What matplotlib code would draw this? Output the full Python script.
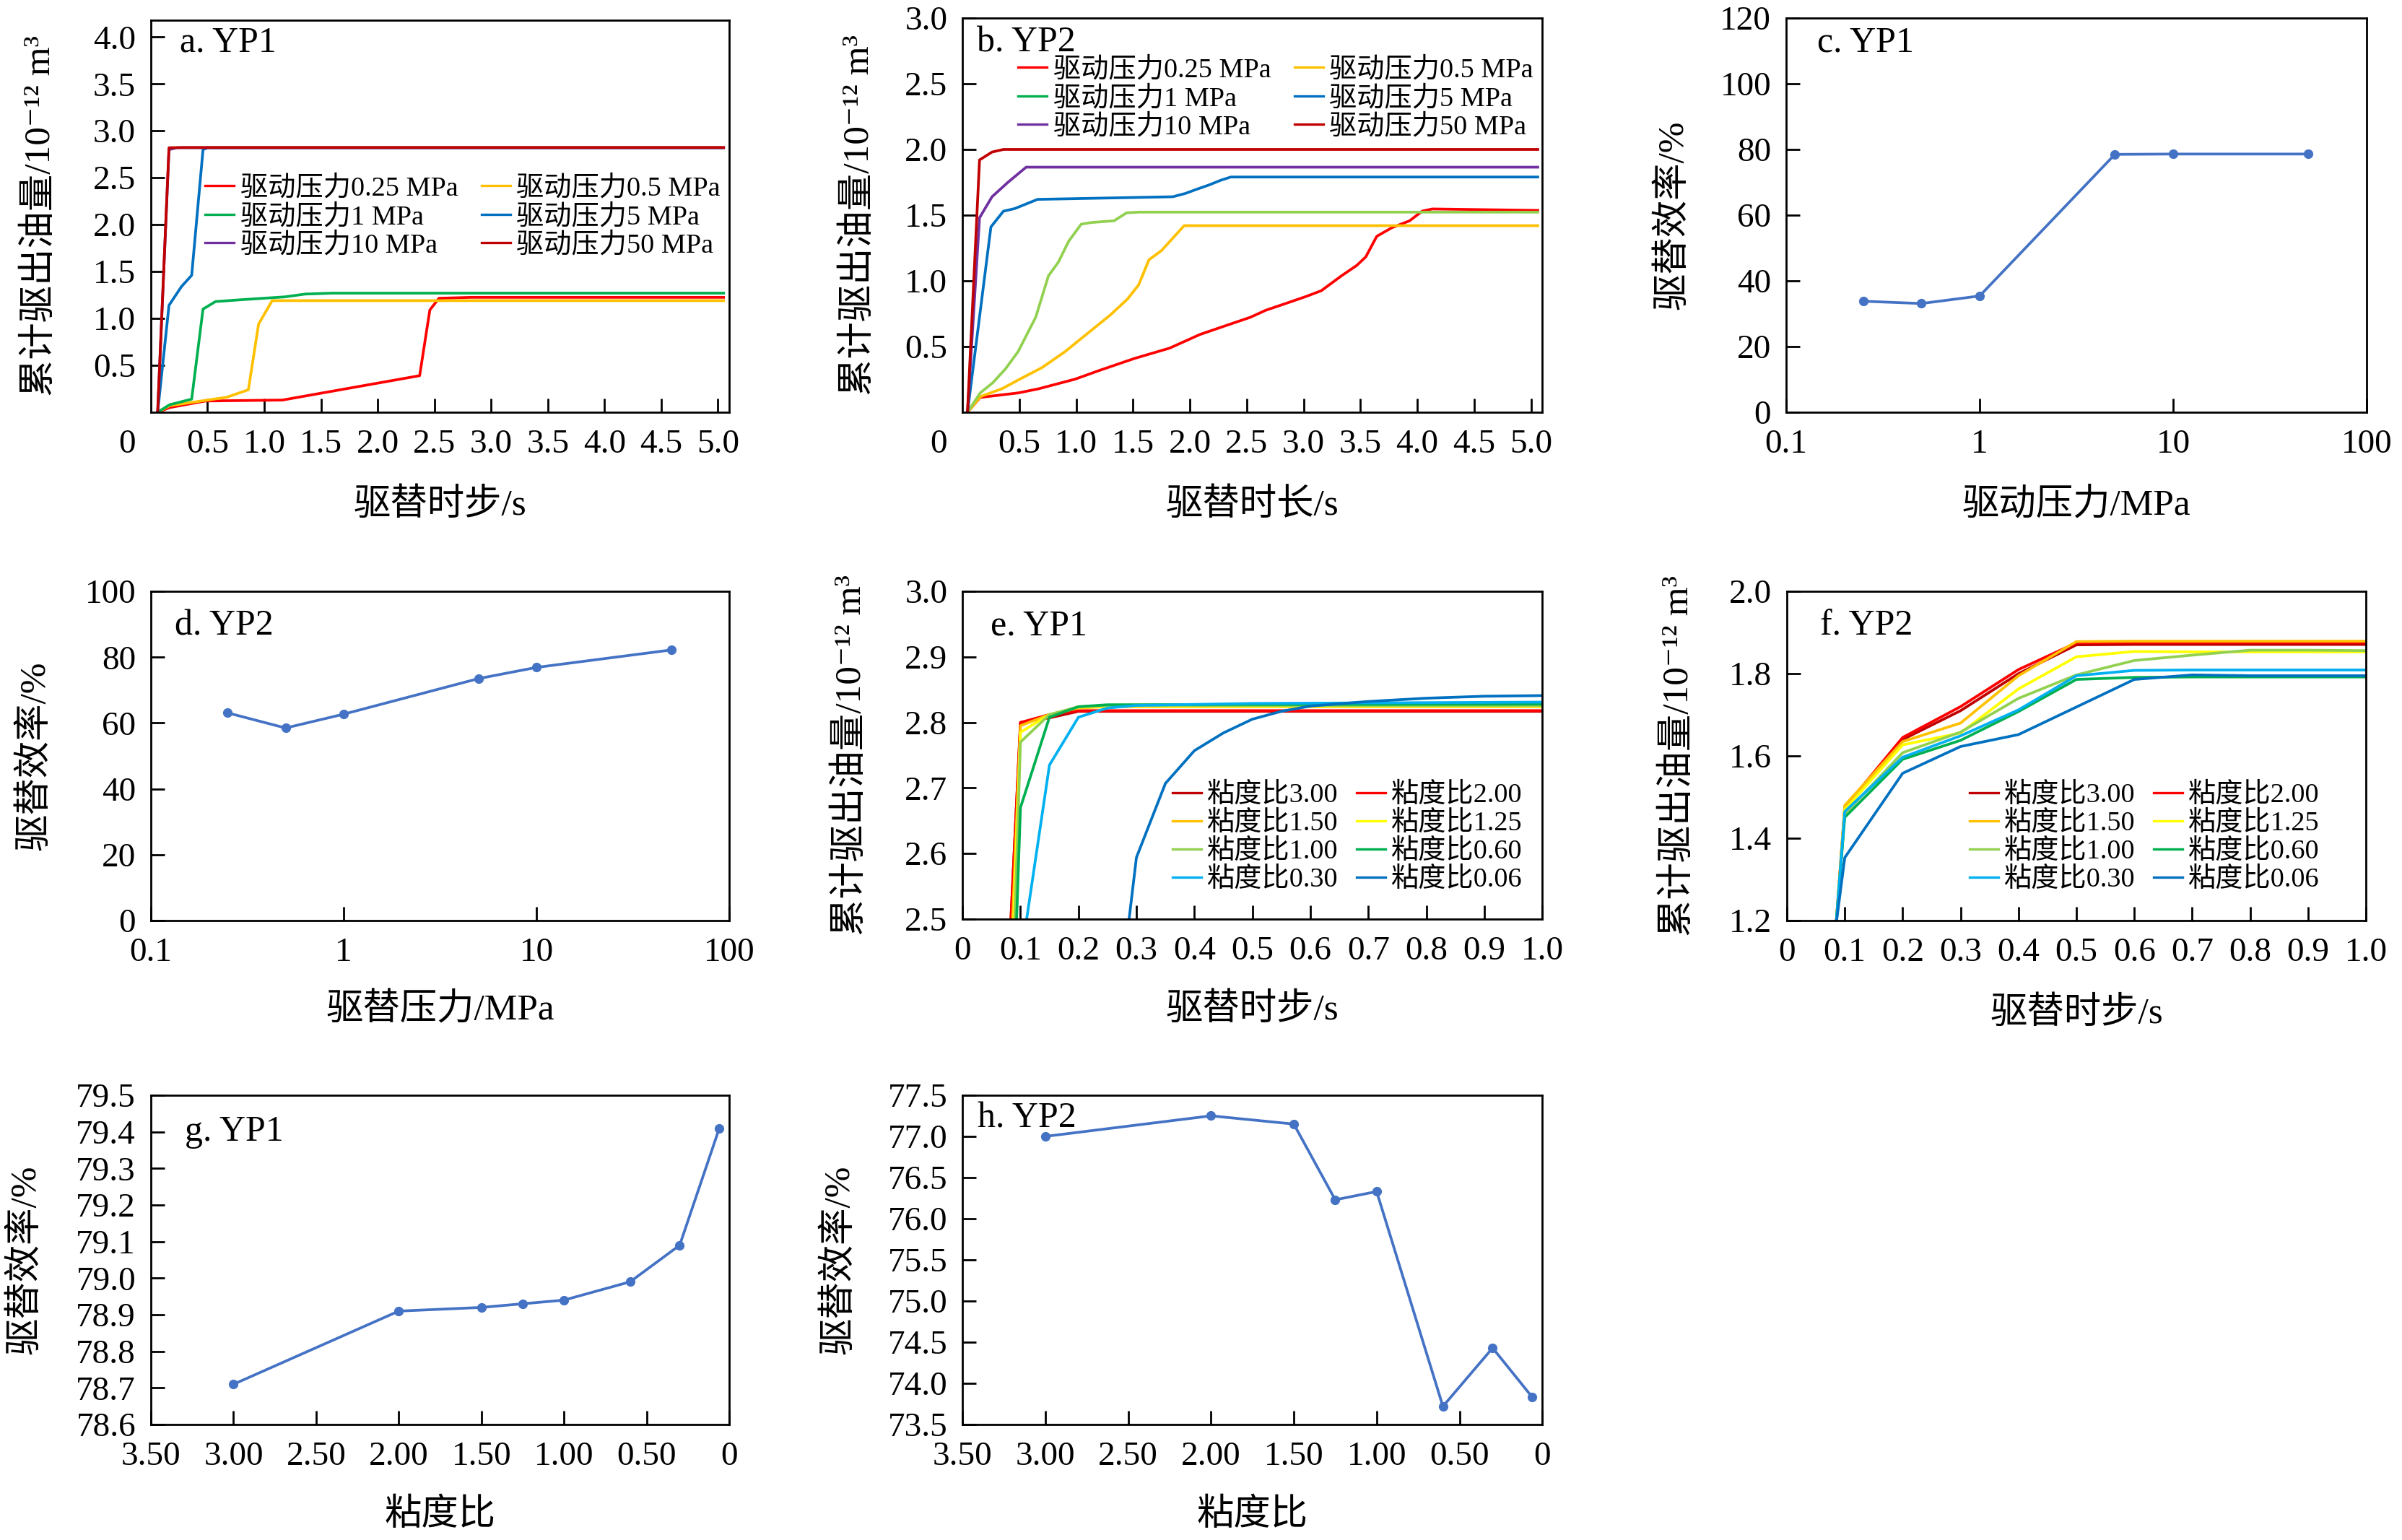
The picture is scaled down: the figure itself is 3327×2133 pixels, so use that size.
import matplotlib
matplotlib.use('Agg')
import matplotlib.pyplot as plt
from matplotlib.lines import Line2D

plt.rcParams['font.family'] = ['Liberation Serif', 'DejaVu Serif', 'Noto Sans CJK SC']
plt.rcParams['axes.unicode_minus'] = False

# ---------------- data ----------------
press_labels = ['驱动压力0.25 MPa', '驱动压力0.5 MPa', '驱动压力1 MPa',
                '驱动压力5 MPa', '驱动压力10 MPa', '驱动压力50 MPa']
press_colors = ['#FF0000', '#FFC000', '#00B050', '#0070C0', '#7030A0', '#C00000']
b_line_colors = ['#FF0000', '#FFC000', '#92D050', '#0070C0', '#7030A0', '#C00000']

# a. YP1, cumulative oil vs time, one list per driving pressure
a_t = [
    [0.06, 0.165, 0.48, 1.16, 2.37, 2.46, 2.54, 2.82, 5.05],
    [0.06, 0.165, 0.5, 0.67, 0.86, 0.95, 1.07, 5.05],
    [0.06, 0.165, 0.36, 0.46, 0.57, 0.8, 1.18, 1.36, 1.6, 5.05],
    [0.06, 0.16, 0.27, 0.36, 0.46, 0.5, 5.05],
    [0.06, 0.16, 0.23, 5.05],
    [0.06, 0.16, 0.3, 5.05],
]
a_v = [
    [0, 0.05, 0.12, 0.13, 0.39, 1.09, 1.215, 1.225, 1.225],
    [0, 0.07, 0.13, 0.16, 0.24, 0.94, 1.19, 1.19],
    [0, 0.08, 0.14, 1.10, 1.18, 1.20, 1.23, 1.26, 1.27, 1.27],
    [0, 1.14, 1.34, 1.46, 2.80, 2.82, 2.82],
    [0, 2.80, 2.82, 2.82],
    [0, 2.82, 2.823, 2.823],
]

# b. YP2
b_t = [
    [0.044, 0.156, 0.489, 0.667, 0.991, 1.2, 1.511, 1.822, 2.089, 2.356, 2.533, 2.667,
     2.844, 3.022, 3.156, 3.333, 3.467, 3.547, 3.644, 3.778, 3.933, 4.044, 4.133, 5.06],
    [0.044, 0.16, 0.35, 0.5, 0.7, 0.9, 1.1, 1.3, 1.45, 1.55, 1.64, 1.75, 1.95, 5.06],
    [0.044, 0.156, 0.267, 0.378, 0.489, 0.644, 0.756, 0.844, 0.933, 1.044, 1.133, 1.333,
     1.444, 1.556, 5.06],
    [0.044, 0.25, 0.36, 0.46, 0.66, 1.85, 1.96, 2.07, 2.17, 2.27, 2.36, 5.06],
    [0.044, 0.15, 0.26, 0.4, 0.56, 5.06],
    [0.044, 0.15, 0.26, 0.36, 5.06],
]
b_v = [
    [0, 0.113, 0.147, 0.178, 0.252, 0.317, 0.409, 0.488, 0.592, 0.671, 0.723, 0.776,
     0.828, 0.881, 0.925, 1.038, 1.117, 1.182, 1.339, 1.405, 1.457, 1.531, 1.547, 1.536],
    [0, 0.12, 0.18, 0.25, 0.34, 0.46, 0.60, 0.74, 0.86, 0.97, 1.16, 1.23, 1.42, 1.42],
    [0, 0.147, 0.225, 0.33, 0.461, 0.723, 1.038, 1.143, 1.30, 1.431, 1.444, 1.457,
     1.518, 1.523, 1.523],
    [0, 1.41, 1.53, 1.55, 1.62, 1.64, 1.665, 1.70, 1.73, 1.765, 1.79, 1.79],
    [0, 1.48, 1.64, 1.75, 1.865, 1.865],
    [0, 1.92, 1.98, 2.0, 2.0],
]

# c / d. displacement efficiency vs driving pressure
pressure = [0.25, 0.5, 1, 5, 10, 50]
eff_yp1 = [33.8, 33.1, 35.4, 78.5, 78.6, 78.6]
eff_yp2 = [63.1, 58.5, 62.7, 73.5, 76.9, 82.2]

# e / f. viscosity ratio series
visc_labels = ['粘度比3.00', '粘度比2.00', '粘度比1.50', '粘度比1.25',
               '粘度比1.00', '粘度比0.60', '粘度比0.30', '粘度比0.06']
visc_colors = ['#C00000', '#FF0000', '#FFC000', '#FFFF00',
               '#92D050', '#00B050', '#00B0F0', '#0070C0']

e_t = [
    [0.083, 0.1, 0.15, 0.2, 1.0],
    [0.083, 0.1, 0.15, 0.2, 1.0],
    [0.086, 0.1, 0.15, 0.2, 0.25, 1.0],
    [0.088, 0.1, 0.15, 0.2, 0.25, 1.0],
    [0.09, 0.1, 0.15, 0.2, 0.25, 1.0],
    [0.093, 0.1, 0.15, 0.2, 0.25, 1.0],
    [0.109, 0.15, 0.2, 0.25, 0.3, 0.5, 1.0],
    [0.286, 0.3, 0.35, 0.4, 0.45, 0.5, 0.55, 0.6, 0.7, 0.8, 0.9, 1.0],
]
e_v = [
    [2.49, 2.80, 2.807, 2.817, 2.817],
    [2.49, 2.80, 2.812, 2.818, 2.818],
    [2.49, 2.795, 2.812, 2.822, 2.824, 2.824],
    [2.49, 2.785, 2.812, 2.823, 2.825, 2.825],
    [2.49, 2.77, 2.812, 2.824, 2.826, 2.826],
    [2.49, 2.67, 2.808, 2.824, 2.827, 2.828],
    [2.49, 2.735, 2.808, 2.822, 2.826, 2.829, 2.831],
    [2.49, 2.594, 2.707, 2.757, 2.784, 2.805, 2.817, 2.825, 2.832, 2.837, 2.840, 2.841],
]

f_t = [0.085, 0.1, 0.2, 0.3, 0.4, 0.5, 0.6, 0.7, 0.8, 0.9, 1.0]
f_v = [
    [1.19, 1.47, 1.64, 1.71, 1.80, 1.870, 1.871, 1.871, 1.871, 1.871, 1.871],
    [1.19, 1.475, 1.645, 1.72, 1.81, 1.875, 1.876, 1.876, 1.876, 1.876, 1.876],
    [1.19, 1.48, 1.635, 1.68, 1.795, 1.878, 1.879, 1.879, 1.879, 1.879, 1.879],
    [1.19, 1.47, 1.627, 1.656, 1.763, 1.841, 1.854, 1.853, 1.853, 1.853, 1.853],
    [1.19, 1.46, 1.608, 1.658, 1.74, 1.797, 1.832, 1.845, 1.857, 1.857, 1.856],
    [1.19, 1.451, 1.592, 1.638, 1.708, 1.786, 1.791, 1.792, 1.792, 1.792, 1.792],
    [1.19, 1.465, 1.597, 1.649, 1.712, 1.795, 1.808, 1.809, 1.809, 1.809, 1.809],
    [1.19, 1.353, 1.558, 1.623, 1.652, 1.719, 1.786, 1.797, 1.795, 1.795, 1.795],
]

# g / h. efficiency vs viscosity ratio
visc = [3.00, 2.00, 1.50, 1.25, 1.00, 0.60, 0.30, 0.06]
visc_eff_yp1 = [78.71, 78.91, 78.92, 78.93, 78.94, 78.99, 79.09, 79.41]
visc_eff_yp2 = [77.00, 77.25, 77.15, 76.23, 76.33, 73.72, 74.43, 73.83]

# ---------------- styling ----------------
TICK = 34
LAB = 37
PANEL = 36
LEG = 27.5
LW = 2.7
BLUE = '#4472C4'
YLAB_OIL = '累计驱出油量/10⁻¹² m³'
YLAB_EFF = '驱替效率/%'

fig = plt.figure(figsize=(33.27, 21.33), dpi=100)


def style(ax):
    for s in ax.spines.values():
        s.set_linewidth(2.0)
    ax.tick_params(direction='in', length=14, width=2, labelsize=TICK,
                   top=False, right=False)
    ax.tick_params(axis='x', pad=17)
    ax.tick_params(axis='y', pad=15)
    ax.minorticks_off()


def labels(ax, xl, yl, xly, ylx, tag, tx, ty):
    ax.set_xlabel(xl, fontsize=LAB)
    ax.xaxis.set_label_coords(0.5, xly)
    ax.set_ylabel(yl, fontsize=LAB, va='center')
    ax.yaxis.set_label_coords(ylx, 0.5)
    ax.text(tx, ty, tag, transform=ax.transAxes, fontsize=PANEL, ha='left', va='top')


def zero_label(ax):
    # corner "0" of the time axis sits left of the spine
    ax.annotate('0', xy=(0, 0), xycoords='axes fraction', xytext=(-24, -17),
                textcoords='offset points', ha='center', va='top', fontsize=TICK)


def legend(ax, handles, order, x, y, colsp):
    h = [handles[i] for i in order]
    ax.legend(handles=h, loc='upper left', bbox_to_anchor=(x, y), ncol=2,
              frameon=False, fontsize=LEG, handlelength=1.05, handletextpad=0.22,
              columnspacing=colsp, labelspacing=0.1, borderpad=0, borderaxespad=0)


ticks_t = [0.5, 1.0, 1.5, 2.0, 2.5, 3.0, 3.5, 4.0, 4.5, 5.0]

# ---- a ----
ax = fig.add_axes([0.0628, 0.7323, 0.2408, 0.2546])
for t, v, c in zip(a_t, a_v, press_colors):
    ax.plot(t, v, color=c, lw=LW)
ax.set_xlim(0, 5.1)
ax.set_ylim(0, 4.18)
ax.set_xticks(ticks_t, [f'{x:.1f}' for x in ticks_t])
yt = [0.5, 1.0, 1.5, 2.0, 2.5, 3.0, 3.5, 4.0]
ax.set_yticks(yt, [f'{x:.1f}' for x in yt])
style(ax)
zero_label(ax)
labels(ax, '驱替时步/s', YLAB_OIL, -0.193, -0.191, 'a. YP1', 0.05, 0.985)
hs = [Line2D([], [], color=c, lw=2.4, label=l) for c, l in zip(press_colors, press_labels)]
legend(ax, hs, [0, 2, 4, 1, 3, 5], 0.094, 0.604, 0.85)

# ---- b ----
ax = fig.add_axes([0.4007, 0.7323, 0.2414, 0.2560])
for t, v, c in zip(b_t, b_v, b_line_colors):
    ax.plot(t, v, color=c, lw=LW)
ax.set_xlim(0, 5.1)
ax.set_ylim(0, 3.0)
ax.set_xticks(ticks_t, [f'{x:.1f}' for x in ticks_t])
yt = [0.5, 1.0, 1.5, 2.0, 2.5, 3.0]
ax.set_yticks(yt, [f'{x:.1f}' for x in yt])
style(ax)
zero_label(ax)
labels(ax, '驱替时长/s', YLAB_OIL, -0.192, -0.178, 'b. YP2', 0.025, 0.98)
hs = [Line2D([], [], color=c, lw=2.4, label=l) for c, l in zip(press_colors, press_labels)]
legend(ax, hs, [0, 2, 4, 1, 3, 5], 0.096, 0.901, 0.85)


def eff_press(ax, y, top, step, tag, xl, ylx, xly, tx, ty):
    ax.plot(pressure, y, color=BLUE, lw=LW, marker='o', ms=8.5)
    ax.set_xscale('log')
    ax.set_xlim(0.1, 100)
    ax.set_ylim(0, top)
    ax.set_xticks([0.1, 1, 10, 100], ['0.1', '1', '10', '100'])
    ax.xaxis.set_minor_locator(matplotlib.ticker.NullLocator())
    yt = list(range(0, top + 1, step))
    ax.set_yticks(yt, [str(v) for v in yt])
    style(ax)
    labels(ax, xl, YLAB_EFF, xly, ylx, tag, tx, ty)


# ---- c ----
ax = fig.add_axes([0.7436, 0.7323, 0.2417, 0.2560])
eff_press(ax, eff_yp1, 120, 20, 'c. YP1', '驱动压力/MPa', -0.194, -0.192, 0.053, 0.98)

# ---- d ----
ax = fig.add_axes([0.0628, 0.4022, 0.2408, 0.2138])
eff_press(ax, eff_yp2, 100, 20, 'd. YP2', '驱替压力/MPa', -0.2, -0.219, 0.041, 0.945)


def visc_curves(ax, ts, vs, ylo, yhi, yt, tag, ylx, xly, tx, ty, lx, ly):
    for t, v, c in zip(ts, vs, visc_colors):
        ax.plot(t, v, color=c, lw=LW)
    ax.set_xlim(0, 1.0)
    ax.set_ylim(ylo, yhi)
    xt = [i / 10 for i in range(11)]
    ax.set_xticks(xt, ['0'] + [f'{x:.1f}' for x in xt[1:]])
    ax.set_yticks(yt, [f'{x:.1f}' for x in yt])
    style(ax)
    labels(ax, '驱替时步/s', YLAB_OIL, xly, ylx, tag, tx, ty)
    hs = [Line2D([], [], color=c, lw=2.4, label=l) for c, l in zip(visc_colors, visc_labels)]
    legend(ax, hs, [0, 2, 4, 6, 1, 3, 5, 7], lx, ly, 0.65)


# ---- e ----
ax = fig.add_axes([0.4007, 0.4032, 0.2414, 0.2128])
visc_curves(ax, e_t, e_v, 2.5, 3.0, [2.5, 2.6, 2.7, 2.8, 2.9, 3.0], 'e. YP1',
            -0.192, -0.225, 0.049, 0.945, 0.362, 0.416)

# ---- f ----
ax = fig.add_axes([0.7439, 0.4022, 0.2411, 0.2138])
visc_curves(ax, [f_t] * 8, f_v, 1.2, 2.0, [1.2, 1.4, 1.6, 1.8, 2.0], 'f. YP2',
            -0.187, -0.23, 0.057, 0.945, 0.315, 0.419)


def eff_visc(ax, y, ylo, yhi, yt, tag, ylx, tx, ty):
    ax.plot(visc, y, color=BLUE, lw=LW, marker='o', ms=8.5)
    ax.set_xlim(3.5, 0)
    ax.set_ylim(ylo, yhi)
    xt = [3.5, 3.0, 2.5, 2.0, 1.5, 1.0, 0.5, 0]
    ax.set_xticks(xt, [f'{x:.2f}' for x in xt[:-1]] + ['0'])
    ax.set_yticks(yt, [f'{x:.1f}' for x in yt])
    style(ax)
    labels(ax, '粘度比', YLAB_EFF, -0.224, ylx, tag, tx, ty)


# ---- g ----
ax = fig.add_axes([0.0628, 0.0750, 0.2408, 0.2138])
eff_visc(ax, visc_eff_yp1, 78.6, 79.5, [78.6 + 0.1 * i for i in range(10)],
         'g. YP1', -0.217, 0.059, 0.94)

# ---- h ----
ax = fig.add_axes([0.4007, 0.0750, 0.2414, 0.2138])
eff_visc(ax, visc_eff_yp2, 73.5, 77.5, [73.5 + 0.5 * i for i in range(9)],
         'h. YP2', -0.213, 0.026, 0.98)

fig.savefig('out.png', dpi=100)
